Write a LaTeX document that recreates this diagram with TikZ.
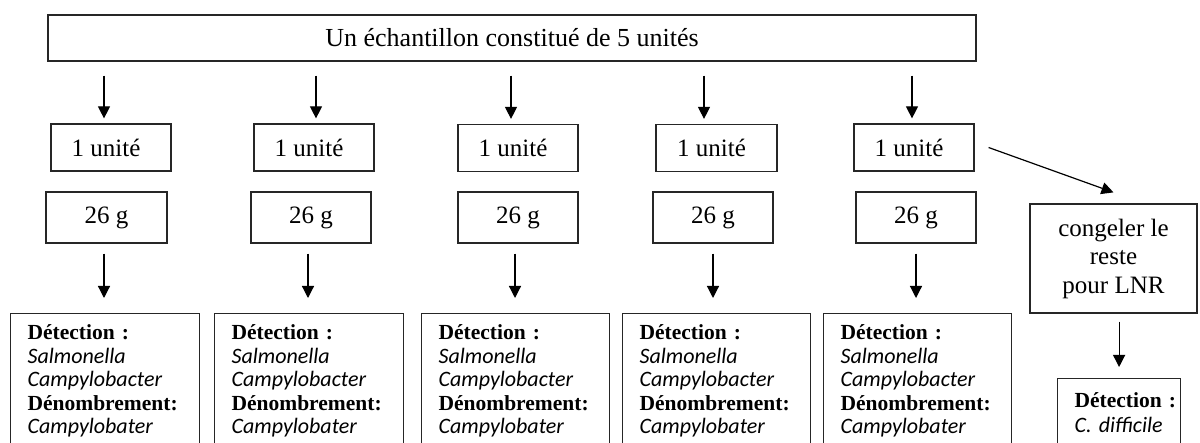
\documentclass[tikz,border=0pt]{standalone}
\usepackage{fontspec}
\setmainfont{Liberation Serif}
\newfontfamily\calit{Carlito}
\usetikzlibrary{arrows.meta,calc}
\newcommand\sppname[1]{{\calit\itshape\fontsize{22}{23.5}\selectfont #1}}
\newcommand\dettext{\rule{0pt}{26pt}\textbf{Détection~:}\\ \sppname{Salmonella}\\ \sppname{Campylobacter}\\ \textbf{Dénombrement:}\\ \sppname{Campylobater}\rule[-20pt]{0pt}{20pt}}
\newcommand\unittext{1 unité\hspace*{10pt}}
\begin{document}
\begin{tikzpicture}[x=1pt,y=-1pt,
  box/.style={draw=black!85, line width=1.2pt, rectangle, inner sep=0pt, font=\fontsize{25}{28}\selectfont},
  arr/.style={draw=black, line width=1.2pt, -{Triangle[width=12pt,length=12pt]}},
  detbox/.style={draw=black!85, line width=1.2pt, rectangle, anchor=north west, inner xsep=17pt, inner ysep=0pt, align=left, font=\fontsize{21.5}{23.5}\selectfont},
]
\useasboundingbox (0,0) rectangle (1200,443);
\clip (0,0) rectangle (1200,443);
\node[box, minimum width=928pt, minimum height=46pt, font=\fontsize{26}{28}\selectfont] (top) at (512,38) {Un échantillon constitué de 5 unités};
% units
\node[box, minimum width=120pt, minimum height=47pt] (u1) at (111,147.5) {\unittext};
\node[box, minimum width=120pt, minimum height=47pt] (u2) at (314,147.5) {\unittext};
\node[box, minimum width=120pt, minimum height=47pt] (u3) at (518,148) {\unittext};
\node[box, minimum width=121pt, minimum height=47pt] (u4) at (716.5,148) {\unittext};
\node[box, minimum width=120pt, minimum height=47pt] (u5) at (914,147.5) {\unittext};
% 26 g
\node[box, minimum width=121pt, minimum height=51pt] (g1) at (106.5,217.5) {26 g};
\node[box, minimum width=120pt, minimum height=51pt] (g2) at (311,217.5) {26 g};
\node[box, minimum width=120pt, minimum height=51pt] (g3) at (518,217.5) {26 g};
\node[box, minimum width=120pt, minimum height=51pt] (g4) at (713,217.5) {26 g};
\node[box, minimum width=120pt, minimum height=51pt] (g5) at (916,217.5) {26 g};
% detection
\node[detbox, text width=155pt] (d1) at (10,313) {\dettext};
\node[detbox, text width=155pt] (d2) at (214,313) {\dettext};
\node[detbox, text width=154pt] (d3) at (421,313) {\dettext};
\node[detbox, text width=154pt] (d4) at (622,313) {\dettext};
\node[detbox, text width=154pt] (d5) at (823,313) {\dettext};
% congeler
\node[box, minimum width=167pt, minimum height=109pt, align=center, font=\fontsize{25}{28.5}\selectfont] (cong) at (1113.5,258.5) {congeler le\\reste\\pour LNR};
\node[detbox, text width=89pt, font=\fontsize{21.5}{25}\selectfont] (cd) at (1057,378) {\rule{0pt}{29pt}\textbf{Détection~:}\\ \sppname{C. difficile}\rule[-20pt]{0pt}{20pt}};
% arrows top
\draw[arr, shorten <=14pt, shorten >=5pt] ($(u1.north |- top.south)+(-7,0)$) -- ($(u1.north)+(-7,0)$);
\draw[arr, shorten <=14pt, shorten >=5pt] ($(u2.north |- top.south)+(2,0)$) -- ($(u2.north)+(2,0)$);
\draw[arr, shorten <=14pt, shorten >=5pt] ($(u3.north |- top.south)+(-7,0)$) -- ($(u3.north)+(-7,0)$);
\draw[arr, shorten <=14pt, shorten >=5pt] ($(u4.north |- top.south)+(-12.5,0)$) -- ($(u4.north)+(-12.5,0)$);
\draw[arr, shorten <=14pt, shorten >=5pt] ($(u5.north |- top.south)+(-2,0)$) -- ($(u5.north)+(-2,0)$);
% arrows lower
\draw[arr, shorten <=10pt, shorten >=15pt] ($(g1.south)+(-2.5,0)$) -- ($(g1.south |- d1.north)+(-2.5,0)$);
\draw[arr, shorten <=10pt, shorten >=15pt] ($(g2.south)+(-3,0)$) -- ($(g2.south |- d2.north)+(-3,0)$);
\draw[arr, shorten <=10pt, shorten >=15pt] ($(g3.south)+(-3,0)$) -- ($(g3.south |- d3.north)+(-3,0)$);
\draw[arr, shorten <=10pt, shorten >=15pt] (g4.south) -- (g4.south |- d4.north);
\draw[arr, shorten <=10pt, shorten >=15pt] (g5.south) -- (g5.south |- d5.north);
% side arrows
\draw[arr] ($(u5.east)+(14,0)$) -- ($(cong.north)+(0,-11)$);
\draw[arr, shorten <=8pt, shorten >=11pt] (cong.south -| cd.north) -- (cd.north);
\end{tikzpicture}
\end{document}
